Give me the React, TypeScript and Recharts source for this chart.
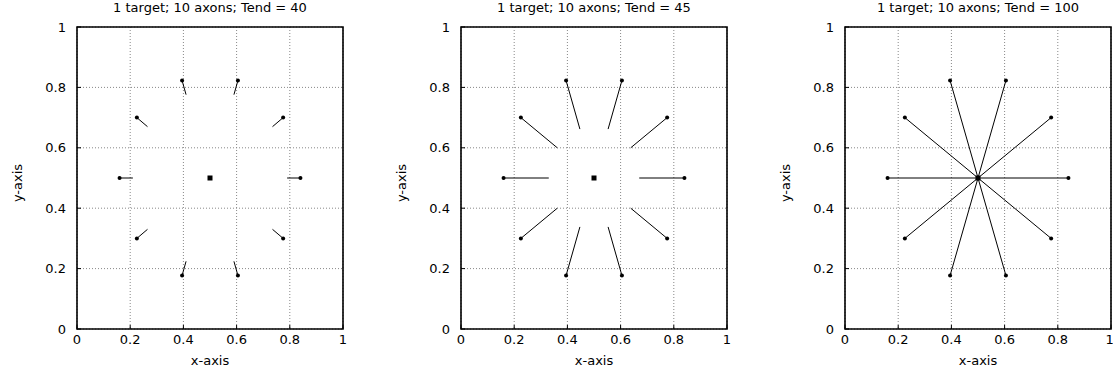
import React from 'react';
import {
  ScatterChart,
  Scatter,
  XAxis,
  YAxis,
  CartesianGrid,
  ReferenceArea,
} from 'recharts';

// axon start points (outer ring) and growth-cone tips for each Tend
const startX = [0.84, 0.775, 0.605, 0.395, 0.225, 0.16, 0.225, 0.395, 0.605, 0.775];
const startY = [0.5, 0.7, 0.823, 0.823, 0.7, 0.5, 0.3, 0.177, 0.177, 0.3];

const endX40 = [0.79, 0.735, 0.59, 0.41, 0.265, 0.21, 0.265, 0.41, 0.59, 0.735];
const endY40 = [0.5, 0.67, 0.776, 0.776, 0.67, 0.5, 0.33, 0.224, 0.224, 0.33];

const endX45 = [0.67, 0.638, 0.553, 0.447, 0.362, 0.33, 0.362, 0.447, 0.553, 0.638];
const endY45 = [0.5, 0.6, 0.662, 0.662, 0.6, 0.5, 0.4, 0.338, 0.338, 0.4];

const endX100 = [0.5, 0.5, 0.5, 0.5, 0.5, 0.5, 0.5, 0.5, 0.5, 0.5];
const endY100 = [0.5, 0.5, 0.5, 0.5, 0.5, 0.5, 0.5, 0.5, 0.5, 0.5];

const targetX = [0.5];
const targetY = [0.5];

const tendValues = [40, 45, 100];
const ticks = [0, 0.2, 0.4, 0.6, 0.8, 1];

const FONT = '"DejaVu Sans", Arial, sans-serif';
const FS = 13;

const noShape = () => <g />;
const dotShape = (p: any) => <circle cx={p.cx} cy={p.cy} r={2} fill="#000" />;
const squareShape = (p: any) => <rect x={p.cx - 2.5} y={p.cy - 2.5} width={5} height={5} fill="#000" />;

function Panel({ tend, endX, endY, width }: { tend: number; endX: number[]; endY: number[]; width: number }) {
  const starts = startX.map((x, i) => ({ x, y: startY[i] }));
  const targets = targetX.map((x, i) => ({ x, y: targetY[i] }));
  const rightMargin = width - 343;

  return (
    <div style={{ position: 'relative', width, height: 375 }}>
      <div
        style={{
          position: 'absolute',
          left: 27,
          width: 366,
          top: 0,
          fontSize: FS,
          lineHeight: '16px',
          textAlign: 'center',
          fontFamily: FONT,
          color: '#000',
          whiteSpace: 'nowrap',
        }}
      >
        1 target; 10 axons; Tend = {tend}
      </div>
      <ScatterChart width={width} height={375} margin={{ top: 27, right: rightMargin, left: 17, bottom: 6 }}>
        <CartesianGrid stroke="#888" strokeDasharray="1 2" />
        <XAxis
          type="number"
          dataKey="x"
          domain={[0, 1]}
          ticks={ticks}
          height={40}
          axisLine={false}
          tickLine={{ stroke: '#000' }}
          tickSize={-4}
          tickMargin={10}
          tick={{ fontSize: FS, fill: '#000', fontFamily: FONT }}
          label={{ value: 'x-axis', position: 'insideBottom', offset: 4, fill: '#000', fontSize: FS, fontFamily: FONT }}
        />
        <YAxis
          type="number"
          dataKey="y"
          domain={[0, 1]}
          ticks={ticks}
          width={60}
          axisLine={false}
          tickLine={{ stroke: '#000' }}
          tickSize={-4}
          tickMargin={15}
          tick={{ fontSize: FS, fill: '#000', fontFamily: FONT }}
          label={{
            value: 'y-axis',
            angle: -90,
            position: 'insideLeft',
            offset: 0,
            dy: 5,
            fill: '#000',
            fontSize: FS,
            fontFamily: FONT,
            style: { textAnchor: 'middle' },
          }}
        />
        <ReferenceArea x1={0} x2={1} y1={0} y2={1} fill="none" stroke="#000" strokeWidth={1.6} />
        {startX.map((x, i) => (
          <Scatter
            key={i}
            data={[
              { x, y: startY[i] },
              { x: endX[i], y: endY[i] },
            ]}
            line={{ stroke: '#000', strokeWidth: 1 }}
            shape={noShape}
            isAnimationActive={false}
          />
        ))}
        <Scatter data={starts} shape={dotShape} isAnimationActive={false} />
        <Scatter data={targets} shape={squareShape} isAnimationActive={false} />
      </ScatterChart>
    </div>
  );
}

export default function App() {
  const ends = [
    [endX40, endY40],
    [endX45, endY45],
    [endX100, endY100],
  ];
  return (
    <div
      style={{
        position: 'absolute',
        top: 0,
        left: 0,
        width: 1113,
        height: 375,
        overflow: 'hidden',
        background: '#fff',
        display: 'flex',
      }}
    >
      {tendValues.map((t, k) => (
        <Panel key={t} tend={t} endX={ends[k][0]} endY={ends[k][1]} width={k === 2 ? 345 : 384} />
      ))}
    </div>
  );
}
